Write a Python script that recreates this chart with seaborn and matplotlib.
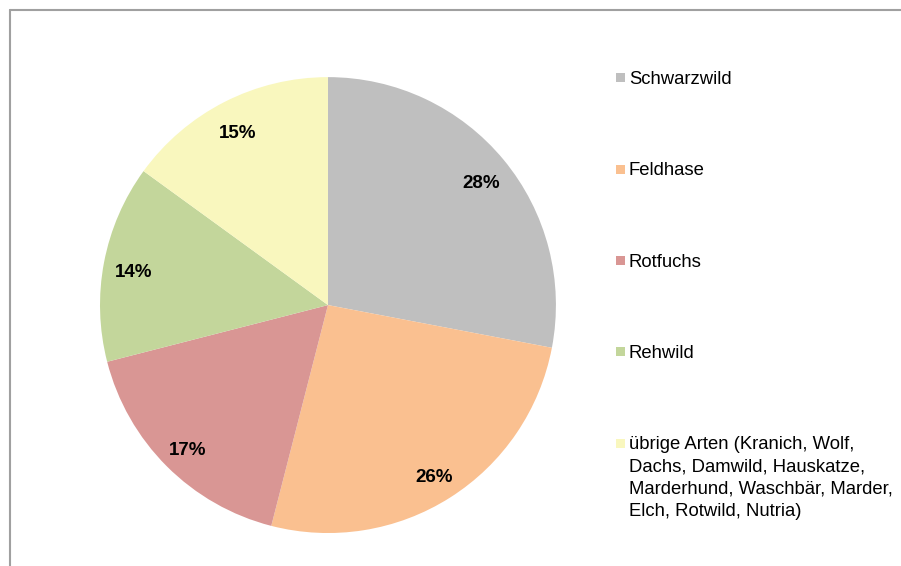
import matplotlib
matplotlib.use("Agg")
import matplotlib.pyplot as plt
import matplotlib.transforms as mtransforms
from matplotlib.lines import Line2D
from matplotlib.patches import Rectangle
import seaborn as sns

# Anteile der Tierarten an den Wildunfällen
species = [
    "Schwarzwild",
    "Feldhase",
    "Rotfuchs",
    "Rehwild",
    "übrige Arten (Kranich, Wolf,\nDachs, Damwild, Hauskatze,\nMarderhund, Waschbär, Marder,\nElch, Rotwild, Nutria)",
]
shares = [28, 26, 17, 14, 15]
colors = ["#BFBFBF", "#FAC090", "#D99694", "#C3D69B", "#F9F7BE"]

sns.set_theme(style="white")
plt.rcParams["font.family"] = ["Liberation Sans", "DejaVu Sans"]

fig = plt.figure(figsize=(9.01, 5.66), dpi=100)
ax = fig.add_axes([0.111, 0.058, 0.506, 0.806])

wedges, texts, autotexts = ax.pie(
    shares,
    colors=sns.color_palette(colors),
    startangle=90,
    counterclock=False,
    autopct=lambda p: f"{p:.0f}%",
    pctdistance=0.87,
    wedgeprops=dict(linewidth=0),
    textprops=dict(fontsize=13.5, fontweight="bold", color="black"),
)
# Prozentwerte leicht nach unten versetzen
shift = mtransforms.ScaledTranslation(0, -3 / 100, fig.dpi_scale_trans)
for t in autotexts:
    t.set_verticalalignment("center_baseline")
    t.set_transform(t.get_transform() + shift)
ax.set_aspect("equal")
ax.set_xlim(-1.0, 1.0)
ax.set_ylim(-1.0, 1.0)
ax.axis("off")

# Legende rechts neben dem Kreis
x_box = 616 / 901
x_txt = 629 / 901
y0 = 78
step = 91.3
for i, (name, col) in enumerate(zip(species, colors)):
    y = 1 - (y0 + i * step) / 566
    fig.add_artist(Rectangle((x_box, y - 4.5 / 566), 9 / 901, 9 / 566,
                             transform=fig.transFigure, facecolor=col,
                             edgecolor="none"))
    fig.text(x_txt, y + 7 / 566, name, fontsize=13.3, va="top", ha="left",
             linespacing=1.40, color="black")

# Rahmen oben und links
frame = dict(color="#A0A0A0", linewidth=1.5, transform=fig.transFigure)
fig.add_artist(Line2D([10 / 901, 1], [1 - 10 / 566, 1 - 10 / 566], **frame))
fig.add_artist(Line2D([10 / 901, 10 / 901], [0, 1 - 10 / 566], **frame))

fig.savefig("out.png", dpi=100, facecolor="white")
